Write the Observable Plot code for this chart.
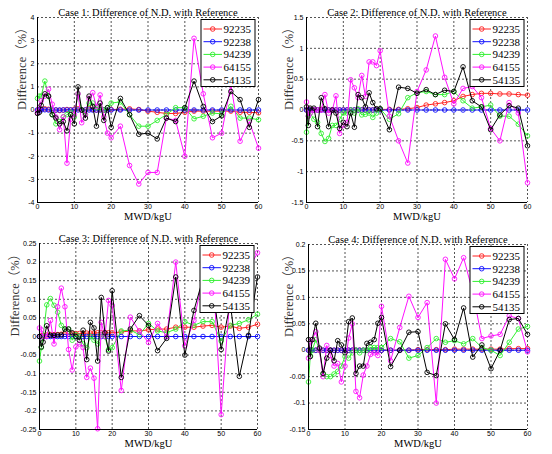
<!DOCTYPE html>
<html><head><meta charset="utf-8">
<script src="https://cdn.jsdelivr.net/npm/d3@7"></script>
<script src="https://cdn.jsdelivr.net/npm/@observablehq/plot@0.6"></script>
<style>
body{margin:0;background:#fff;}
#wrap{position:relative;width:552px;height:454px;background:#fff;}
.panel{position:absolute;}
.panel svg{overflow:visible;}
</style></head><body><div id="wrap"></div>
<script>
// ---- data ----
const burnup = [0,0.5,1,2,3,4,5,6,7,8,9,10,11,12,13,14,15,16,17,18,19,20,22.5,25,27.5,30,32.5,35,37.5,40,42.5,45,47.5,50,52.5,55,57.5,60];
const isotopes = ["92235","92238","94239","64155","54135"];
const colors = ["#ff2020","#1010ff","#30f030","#ff10ff","#000000"];
const xTicks = [0,10,20,30,40,50,60];
const yTicks1 = [-4,-3,-2,-1,0,1,2,3,4];
const yTicks2 = [-1.5,-1,-0.5,0,0.5,1,1.5];
const yTicks3 = [-0.25,-0.2,-0.15,-0.1,-0.05,0,0.05,0.1,0.15,0.2,0.25];
const yTicks4 = [-0.15,-0.1,-0.05,0,0.05,0.1,0.15,0.2];
const titles = ["Case 1: Difference of N.D. with Reference","Case 2: Difference of N.D. with Reference","Case 3: Difference of N.D. with Reference","Case 4: Difference of N.D. with Reference"];
const xLabel = "MWD/kgU";
const yLabel = "Difference（%）";

const case1 = [
 [0,0.02,0.03,0.05,0.03,-0.02,0,-0.02,0,0.02,0,0.03,0.05,0,0,0.05,0.03,0,0.02,0,0,0.02, 0.03,0.05,0.02,-0.05,-0.1,-0.15,-0.15,-0.1,-0.05,-0.05,-0.05,-0.05,-0.05,-0.1,-0.1,-0.12],
 [0,0,0,0.01,0,0,0,0,0,0,0,0,0,0,0,0,0,0,0,0,0,0, 0,0,0,0,0,0,0,0,0,0,0,0,0,0,0,0],
 [0.5,0.6,0.6,1.25,0.6,-0.2,-0.6,-0.5,-0.3,-0.2,-0.1,-0.3,0.7,0,-0.2,0.3,0.3,0.1,0.1,0,0.1,0.3, 0.35,-0.2,-0.7,-0.7,-0.45,-0.2,0.1,0.1,-0.38,-0.27,-0.13,-0.17,0.16,-0.35,-0.35,-0.42],
 [-0.1,0.1,0.4,0.6,0.9,0.25,-0.3,-0.85,-0.3,-2.3,-0.4,-0.2,0.7,-0.55,-0.2,0.5,0.75,0.15,0.65,-0.3,-1.0,-1.2, -0.7,-2.4,-3.2,-2.7,-2.7,-0.35,-0.45,-2.0,3.1,0.7,-1.2,-1.0,1.1,-1.35,-0.5,-1.65],
 [-0.15,-0.1,0.2,0.7,0.6,-0.2,-0.35,-0.6,-0.5,-0.9,-0.2,-0.6,1.0,0,-0.35,0.6,0.15,-0.7,0.3,-0.45,0.1,-0.75, 0.5,-0.2,-1.05,-1.0,-1.25,-0.35,-0.5,0.1,1.25,0.15,-0.5,-0.25,0.8,0.45,-0.75,0.45]
];
const case2 = [
 [0,0,0.01,0,0,0.01,0,0,0,0,0,0,0,0,0,0,0,0,0,0,0.01,0.01, 0.01,0.01,0.02,0.04,0.08,0.1,0.12,0.15,0.22,0.25,0.27,0.27,0.26,0.26,0.25,0.24],
 [0,0,0,0,0,0,0,0,0,0,0,0,0,0,0,0,0,0,0,0,0,0, 0,0,0,0,0,0,0,0,0,0,0,0,0,0,0,0],
 [-0.36,-0.1,-0.05,-0.15,-0.2,-0.38,-0.51,-0.46,-0.25,-0.25,-0.15,-0.05,-0.05,0,-0.05,0.02,-0.08,-0.07,-0.05,-0.12,-0.05,0.02, -0.15,-0.06,0.2,0.28,0.3,0.25,0.25,0.3,0.15,0.03,0.05,0.08,-0.1,-0.1,-0.23,-0.42],
 [0.13,-0.1,-0.05,0,0,0,0.25,-0.05,0,0.23,-0.38,-0.25,-0.2,0.49,0.36,0.2,0.56,0.22,0.78,0.78,0.72,0.96, -0.1,-0.5,-0.86,0.3,0.65,1.2,0.53,0.1,0.35,0.38,0.2,-0.3,-0.5,0.12,-0.05,-1.18],
 [0.05,-0.25,0.03,0.03,-0.27,0.2,0.02,-0.27,0,-0.05,-0.3,-0.2,-0.27,-0.05,-0.28,0.25,0.2,0.05,0.28,0.12,0.02,0.02, -0.32,0.37,0.35,0.27,0.33,0.25,0.32,0.3,0.7,0.15,0.05,-0.32,-0.08,0.07,0.03,-0.58]
];
const case3 = [
 [0,0.002,0.003,0.004,0.005,0.005,0.005,0.006,0.006,0.007,0.007,0.008,0.008,0.008,0.009,0.009,0.009,0.01,0.01,0.01,0.01,0.01, 0.012,0.015,0.015,0.018,0.02,0.02,0.025,0.025,0.025,0.028,0.03,0.025,0.028,0.022,0.025,0.033],
 [0,0,0,0,0,0,0,0,0,0,0,0,0,0,0,0,0,0,0,0,0,0, 0,0,0,0,0,0,0,0,0,0,0,0,0,0,0,0],
 [-0.066,-0.03,0,0.085,0.102,0.084,0.065,0.03,0.02,0.02,-0.01,0.005,0,-0.02,-0.03,0,-0.01,-0.02,0.005,0,-0.035,-0.03, 0.015,0.017,0.005,0.035,0.015,0.01,0.02,0.04,0.03,0.04,0.04,-0.012,0.03,0.035,0.045,0.06],
 [0.023,0.018,0,0,0.043,-0.02,0.08,0.13,0.08,-0.035,-0.09,-0.028,-0.02,-0.03,-0.11,-0.085,-0.112,-0.248,0.038,0,0.097,0.084, -0.145,0.052,0.014,-0.016,0.035,0,0.2,-0.025,0.043,0.16,0.215,-0.21,0.12,0.15,0.18,0.225],
 [0,-0.028,-0.015,0.029,0.003,0.003,0.004,0.004,0.02,0.02,0.01,0,-0.01,0.017,-0.062,0.038,0.023,-0.066,0.105,0.01,-0.039,0.123, -0.11,0.02,0.056,0.03,-0.038,-0.005,0.16,-0.05,0.07,0.156,0.14,-0.035,0.09,-0.107,0.003,0.16]
];
const case4 = [
 [0,0,0,0,0,0,0,0,0,0,0,0,0,0,0,0,0,0,0,0,0,0, 0,0,0,0.001,0.001,0.001,0.001,0.002,0.002,0.002,0.002,0.002,0.002,0.003,0.003,0.003],
 [0,0,0,0,0,0,0,0,0,0,0,0,0,0,0,0,0,0,0,0,0,0, 0,0,0,0,0,0,0,0,0,0,0,0,0,0,0,0],
 [-0.06,-0.01,0,0.02,0,-0.045,-0.05,-0.05,-0.045,-0.04,-0.03,-0.012,-0.015,-0.005,0,-0.005,0,0,0.005,0.005,0.005,0.005, 0.022,0.016,-0.015,-0.01,0.005,0.022,0.015,0.018,0.012,0.022,0.005,0,-0.01,0.015,0.04,0.045],
 [-0.015,0.016,0.02,0.035,0,-0.05,0.009,-0.01,-0.03,-0.025,-0.06,-0.03,0.023,0.05,-0.078,-0.09,-0.047,-0.03,-0.008,-0.005,-0.01,0.083, -0.02,0.043,0.102,0.062,0.09,-0.1,0.172,0.135,0.175,0.11,0.022,0.027,0.03,0.065,0.06,-0.003],
 [0.02,-0.012,0.02,0.051,0.004,-0.044,-0.015,0,-0.02,0.018,0.01,-0.005,0.054,0.061,-0.044,-0.03,-0.03,0.013,0.015,0.02,0.051,0.062, -0.031,0,0.034,0.035,-0.042,-0.048,0.05,0.02,0.08,-0.013,0.01,-0.035,0,0.058,0.06,0.03]
];

// ---- layout ----
const panels = [
  {series: case1, ticks: yTicks1, left: 0,   top: 0,   ylx: 21, m: {l: 37, r: 18, t: 17, b: 25}},
  {series: case2, ticks: yTicks2, left: 276, top: 0,   ylx: 12, m: {l: 30, r: 25, t: 17, b: 25}},
  {series: case3, ticks: yTicks3, left: 0,   top: 227, ylx: 14, m: {l: 39, r: 19, t: 16, b: 25}},
  {series: case4, ticks: yTicks4, left: 276, top: 227, ylx: 12, m: {l: 32, r: 25, t: 17, b: 25}}
];
const W = 276, H = 227;
const serif = "'Liberation Serif','Times New Roman','Noto Sans CJK SC',serif";
const fmt = d => String(Math.round(d * 1000) / 1000);
const dotted = {stroke: "#000", strokeOpacity: 0.85, strokeDasharray: "2,2", strokeWidth: 0.8};

const wrap = document.getElementById("wrap");
panels.forEach((p, pi) => {
  const y0 = p.ticks[0], y1 = p.ticks[p.ticks.length - 1];
  const marks = [
    Plot.gridX(xTicks, dotted),
    Plot.gridY(p.ticks, dotted),
    Plot.axisX(xTicks, {tickSize: 0, tickPadding: 2, tickFormat: fmt, label: null, fontSize: 7}),
    Plot.axisY(p.ticks, {tickSize: 0, tickPadding: 3, tickFormat: fmt, label: null, fontSize: 7})
  ];
  p.series.forEach((vals, si) => {
    const rows = vals.map((v, i) => ({x: burnup[i], y: v}));
    marks.push(Plot.line(rows, {x: "x", y: "y", stroke: colors[si], strokeWidth: 1}));
    marks.push(Plot.dot(rows, {x: "x", y: "y", stroke: colors[si], r: 2.3, strokeWidth: 0.9}));
  });
  // MATLAB-style axes: solid left and bottom lines only
  marks.push(Plot.ruleX([0], {stroke: "#000", strokeWidth: 1}));
  marks.push(Plot.ruleY([y0], {stroke: "#000", strokeWidth: 1}));
  marks.push(Plot.text([titles[pi]], {frameAnchor: "top", dy: -9, fontSize: 10.5, fontFamily: serif, fill: "#000"}));
  marks.push(Plot.text([xLabel], {frameAnchor: "bottom", dy: 17, fontSize: 10.5, fontFamily: serif, fill: "#000"}));
  marks.push(Plot.text([yLabel], {frameAnchor: "left", rotate: -90, dx: p.ylx - p.m.l, fontSize: 12.5, fontFamily: serif, fill: "#333"}));

  const chart = Plot.plot({
    width: W, height: H,
    marginLeft: p.m.l, marginRight: p.m.r, marginTop: p.m.t, marginBottom: p.m.b,
    x: {domain: [0, 60]},
    y: {domain: [y0, y1]},
    style: {fontFamily: "'Liberation Sans',Arial,sans-serif", fontSize: "7px", background: "white", overflow: "visible"},
    marks
  });

  // legend box (top-right inside plot area)
  const svg = d3.select(chart);
  const fr = W - p.m.r;
  const lw = 54, lh = 67;
  const lx = fr - lw - 3, ly = p.m.t + 2.5;
  const g = svg.append("g").attr("transform", `translate(${lx},${ly})`).style("text-anchor", "start");
  g.append("rect").attr("x", 0).attr("y", 0).attr("width", lw).attr("height", lh)
    .style("fill", "#ffffff").style("stroke", "#000000").style("stroke-width", "1px");
  isotopes.forEach((name, i) => {
    const yy = 9.5 + i * 12.7;
    g.append("line").attr("x1", 2.5).attr("x2", 21).attr("y1", yy).attr("y2", yy)
      .style("stroke", colors[i]).style("stroke-width", "1px");
    g.append("circle").attr("cx", 11.7).attr("cy", yy).attr("r", 2.3)
      .style("fill", "none").style("stroke", colors[i]).style("stroke-width", "0.9px");
    g.append("text").attr("x", 22.5).attr("y", yy).attr("dy", "0.35em")
      .style("font-family", serif).style("font-size", "11px").style("fill", "#000").style("text-anchor", "start")
      .text(name);
  });

  const div = document.createElement("div");
  div.className = "panel";
  div.style.left = p.left + "px";
  div.style.top = p.top + "px";
  div.appendChild(chart);
  wrap.appendChild(div);
});
</script>
</body></html>
